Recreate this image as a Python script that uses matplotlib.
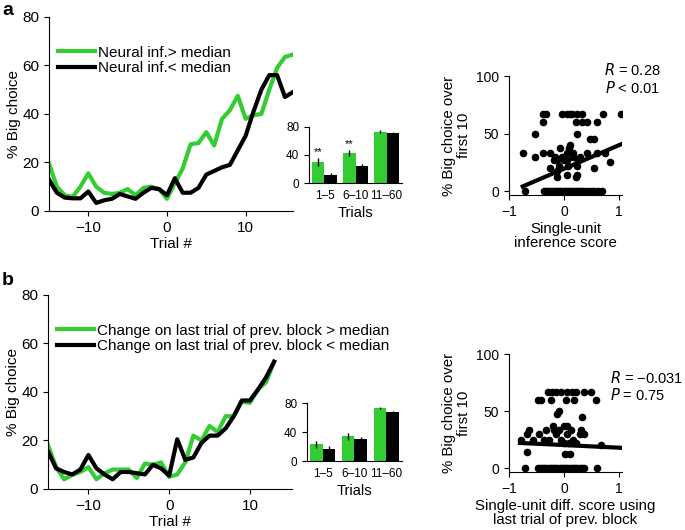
import numpy as np
import matplotlib
matplotlib.use('Agg')
import matplotlib.pyplot as plt

plt.rcParams['font.family'] = ['Liberation Sans', 'DejaVu Sans']

GREEN = '#33cc33'

# ---- panel a data ----
trials_a = np.arange(-15, 17)
green_a = [19.6, 10, 6.5, 5.8, 10, 15.5, 10, 7.5, 7, 7.5, 9, 6.5, 9.5, 10, 9, 5,
           11.5, 17.5, 27.5, 28, 32.5, 27, 38, 41.5, 47.5, 38, 39.5, 40, 50, 59, 63.5, 64.5]
black_a = [13, 7.5, 5.5, 5.2, 5.2, 8, 3.3, 4.4, 5, 7, 6, 5, 7.5, 9.5, 9, 6.5,
           13.5, 7.5, 7.5, 9.5, 15, 16.5, 18, 19, 25, 31, 41, 50, 56, 56, 47, 49]

bar_labels = ['1\u20135', '6\u201310', '11\u201360']
bar_green_a = [30, 43, 73]
bar_black_a = [12, 24, 72]
err_green_a = [5, 4, 2]
err_black_a = [3, 3.5, 1.5]

sc_x_a = [-0.38, -0.32, -0.04, 0.05, 0.10, 0.14, 0.23, 0.32, 0.70, 1.04,
          -0.38, 0.22, 0.32, 0.41, 0.59,
          -0.53, 0.23, 0.47, 0.54, 0.11, -0.08, 0.09,
          -0.74, -0.38, -0.25, 0.05, 0.17, 0.41, 0.59, 0.74,
          -0.52, -0.16, -0.04, 0.02, 0.17, 0.29,
          -0.19, -0.13, -0.01, 0.05, 0.26, 0.83,
          -0.10, 0.08, 0.23, -0.26, 0.55, -0.13, 0.06, 0.23, -0.12, 0.22,
          -0.70, -0.37, -0.33, -0.29, -0.25, -0.21, -0.17, -0.13, -0.09, -0.05,
          -0.01, 0.03, 0.07, 0.11, 0.15, 0.19, 0.23, 0.27, 0.31, 0.35, 0.40,
          0.45, 0.50, 0.55, 0.62, 0.68]
sc_y_a = [66.7, 66.7, 66.7, 66.7, 66.7, 66.7, 66.7, 66.7, 66.7, 66.7,
          60, 60, 60, 60, 60,
          50, 50, 45, 45, 40, 37, 37,
          33, 33, 33, 33, 33, 33, 33, 33,
          30, 30, 30, 30, 30, 30,
          27, 27, 27, 27, 27, 25,
          22, 22, 22, 20, 20, 17, 14, 14, 12, 12,
          0, 0, 0, 0, 0, 0, 0, 0, 0, 0,
          0, 0, 0, 0, 0, 0, 0, 0, 0, 0, 0,
          0, 0, 0, 0, 0]
fit_x_a = [-0.75, 1.05]
fit_y_a = [4, 41]

# ---- panel b data ----
trials_b = np.arange(-15, 14)
green_b = [18, 9, 4, 5.8, 7, 9, 4, 6.5, 8, 8, 8, 4.5, 10.5, 10, 11, 5,
           6, 11, 22, 20, 26, 23.5, 30, 30, 36, 35.5, 41, 44, 52.5]
black_b = [15.5, 8.5, 7, 6, 8, 14, 8.5, 6, 4, 7, 7, 6.5, 6, 10, 8.5, 5.5,
           20.5, 12, 13, 19, 22, 22, 25, 30, 36.5, 36.5, 41, 46, 52.5]

bar_green_b = [23, 34.5, 73.5]
bar_black_b = [17, 30, 67.5]
err_green_b = [5, 5, 2]
err_black_b = [4, 4, 2]

sc_x_b = [-0.30, -0.22, -0.15, -0.06, 0.06, 0.15, 0.22, 0.36, 0.48,
          -0.48, -0.41, -0.24, 0.03, 0.18, 0.57,
          -0.10, -0.12, 0.32, -0.21, 0.00, 0.06,
          -0.64, -0.33, -0.19, -0.09, 0.12, 0.30,
          -0.68, -0.45, -0.15, 0.06, 0.28, 0.36,
          -0.79, -0.56, -0.36, -0.27, -0.06, 0.17,
          0.00, 0.09, 0.21, 0.67, -0.68, 0.01, 0.11,
          -0.71, -0.48, -0.44, -0.40, -0.36, -0.32, -0.28, -0.24, -0.20, -0.16,
          -0.12, -0.08, -0.04, 0.00, 0.04, 0.08, 0.12, 0.16, 0.20, 0.24,
          0.28, 0.32, 0.36, 0.60]
sc_y_b = [66.7, 66.7, 66.7, 66.7, 66.7, 66.7, 66.7, 66.7, 66.7,
          60, 60, 60, 60, 60, 60,
          50, 47, 45, 37, 37, 37,
          33, 33, 33, 33, 33, 33,
          30, 30, 30, 30, 30, 30,
          25, 25, 25, 25, 25, 25,
          22, 22, 22, 20, 14, 12, 12,
          0, 0, 0, 0, 0, 0, 0, 0, 0, 0,
          0, 0, 0, 0, 0, 0, 0, 0, 0, 0,
          0, 0, 0, 0]
fit_x_b = [-0.8, 1.1]
fit_y_b = [22, 17.6]


def style(ax, fs):
    for s in ['top', 'right']:
        ax.spines[s].set_visible(False)
    ax.tick_params(direction='out', length=3.5, labelsize=fs, width=0.8)


def main_panel(rect, trials, g, k, labels, xlim, legend_y):
    ax = fig.add_axes(rect)
    ax.plot(trials, g, color=GREEN, lw=3, label=labels[0])
    ax.plot(trials, k, color='k', lw=3, label=labels[1])
    ax.set_xlim(*xlim)
    ax.set_ylim(0, 80)
    ax.set_xticks([-10, 0, 10])
    ax.set_yticks([0, 20, 40, 60, 80])
    style(ax, 11)
    ax.set_xlabel('Trial #', fontsize=11, labelpad=2)
    ax.set_ylabel('% Big choice', fontsize=11, labelpad=1)
    leg = ax.legend(loc='upper left', bbox_to_anchor=(0.0, legend_y), frameon=False,
                    fontsize=11, handlelength=2.4, handletextpad=0.2,
                    labelspacing=0.1, borderaxespad=0.2)
    for t in leg.get_texts():
        t.set_clip_on(False)
    return ax


def bar_panel(rect, gv, kv, ge, ke, stars):
    ax = fig.add_axes(rect)
    pos = np.arange(1, 4)
    w = 0.4
    ax.bar(pos - w / 2, gv, w, yerr=ge, color=GREEN, ecolor='k',
           error_kw=dict(lw=1, capsize=0))
    ax.bar(pos + w / 2, kv, w, yerr=ke, color='k', ecolor='k',
           error_kw=dict(lw=1, capsize=0))
    for i in stars:
        ax.text(pos[i] - w / 2, gv[i] + ge[i] + 2, '**', ha='center', va='bottom', fontsize=8)
    ax.set_xlim(0.5, 3.5)
    ax.set_ylim(0, 80)
    ax.set_yticks([0, 40, 80])
    ax.set_xticks(pos)
    ax.set_xticklabels(bar_labels)
    style(ax, 8.5)
    ax.tick_params(axis='x', length=0, pad=5)
    ax.set_xlabel('Trials', fontsize=10.5, labelpad=3)
    return ax


def scatter_panel(rect, x, y, fx, fy, xlabel, rtext, ptext, tpos):
    ax = fig.add_axes(rect)
    ax.scatter(x, y, s=20, color='k', zorder=3)
    ax.plot(fx, fy, color='k', lw=3)
    ax.set_xlim(-1, 1.05)
    ax.set_ylim(-3.5, 100)
    ax.set_xticks([-1, 0, 1])
    ax.set_yticks([0, 50, 100])
    style(ax, 10)
    ax.set_xlabel(xlabel, fontsize=10.8, labelpad=2, linespacing=1.05)
    ax.set_ylabel('% Big choice over\nfirst 10', fontsize=10.8, labelpad=4, linespacing=1.05)
    fig.text(tpos[0], tpos[1], rtext, ha='right', va='center', fontsize=10.5)
    fig.text(tpos[2], tpos[3], ptext, ha='right', va='center', fontsize=10.5)
    return ax


fig = plt.figure(figsize=(6.85, 5.3), dpi=100)

# panel a
main_panel([0.0715, 0.602, 0.356, 0.366], trials_a, green_a, black_a,
           ['Neural inf.> median', 'Neural inf.< median'], (-15, 16), 0.90)
bar_panel([0.451, 0.6547, 0.136, 0.1057], bar_green_a, bar_black_a,
          err_green_a, err_black_a, [0, 1])
scatter_panel([0.743, 0.632, 0.165, 0.2245], sc_x_a, sc_y_a, fit_x_a, fit_y_a,
              'Single-unit\ninference score', '$R$ = 0.28', '$P$ < 0.01',
              (0.964, 1 - 70 / 530, 0.964, 1 - 88 / 530))

# panel b
main_panel([0.0701, 0.0774, 0.356, 0.366], trials_b, green_b, black_b,
           ['Change on last trial of prev. block > median',
            'Change on last trial of prev. block < median'], (-15, 15.2), 0.90)
bar_panel([0.448, 0.130, 0.139, 0.109], bar_green_b, bar_black_b,
          err_green_b, err_black_b, [])
scatter_panel([0.743, 0.1094, 0.165, 0.2226], sc_x_b, sc_y_b, fit_x_b, fit_y_b,
              'Single-unit diff. score using\nlast trial of prev. block',
              '$R$ = \u22120.031', '$P$ = 0.75',
              (0.997, 1 - 378 / 530, 0.971, 1 - 395 / 530))

fig.text(0.003, 0.997, 'a', fontsize=14, fontweight='bold', va='top', ha='left')
fig.text(0.003, 1 - 272 / 530, 'b', fontsize=14, fontweight='bold', va='top', ha='left')

fig.savefig('out.png', dpi=100)
